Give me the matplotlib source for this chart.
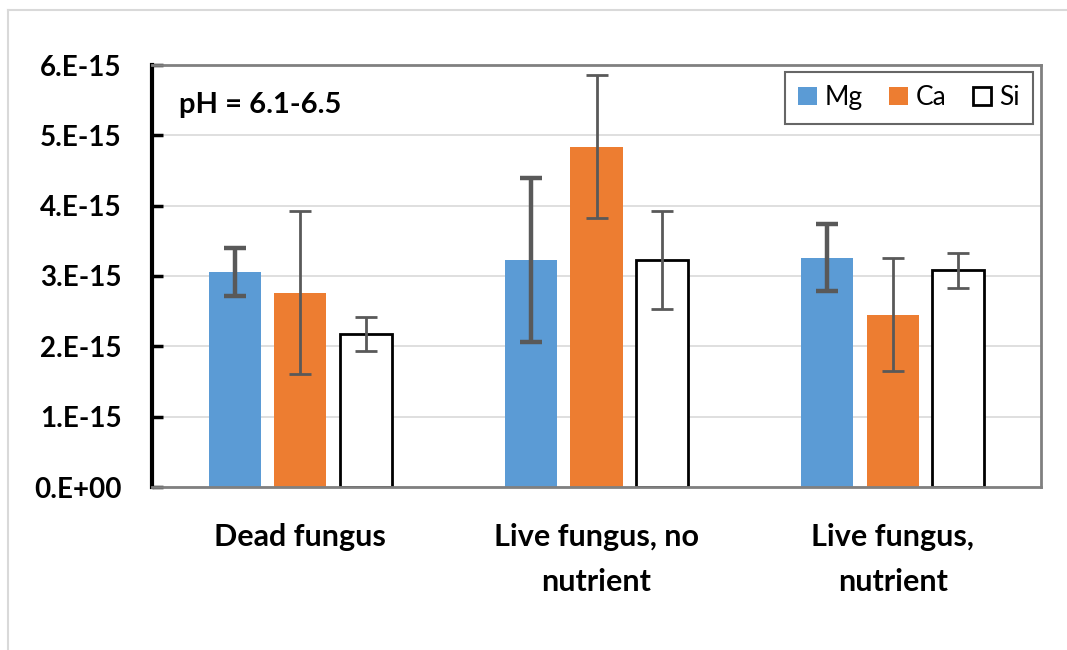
import matplotlib.pyplot as plt
import numpy as np
from matplotlib.lines import Line2D

plt.rcParams['font.family'] = ['Lato', 'DejaVu Sans']

categories = ['Dead fungus', 'Live fungus, no\nnutrient', 'Live fungus,\nnutrient']
series = ['Mg', 'Ca', 'Si']
mg = [3.06e-15, 3.23e-15, 3.26e-15]
ca = [2.76e-15, 4.84e-15, 2.45e-15]
si = [2.17e-15, 3.23e-15, 3.08e-15]
mg_err = [0.34e-15, 1.17e-15, 0.48e-15]
ca_err = [1.16e-15, 1.02e-15, 0.80e-15]
si_err = [0.24e-15, 0.70e-15, 0.25e-15]
yticks = [0, 1e-15, 2e-15, 3e-15, 4e-15, 5e-15, 6e-15]
ytick_labels = ['0.E+00', '1.E-15', '2.E-15', '3.E-15', '4.E-15', '5.E-15', '6.E-15']

fig = plt.figure(figsize=(10.67, 6.5), dpi=100)
ax = fig.add_axes([152 / 1067, 1 - 487 / 650, (1041 - 152) / 1067, (487 - 65) / 650])

# light frame around the chart area
fig.add_artist(Line2D([8 / 1067, 1.0], [1 - 10 / 650] * 2, color='#d9d9d9', lw=1.5))
fig.add_artist(Line2D([8 / 1067] * 2, [0.0, 1 - 10 / 650], color='#d9d9d9', lw=1.5))

x = np.arange(len(categories))
w = 0.176
step = 0.221
err_col = '#595959'

ax.bar(x - step, mg, w, color='#5b9bd5', label='Mg', zorder=2)
ax.bar(x, ca, w, color='#ed7d31', label='Ca', zorder=2)
ax.bar(x + step, si, w, color='white', edgecolor='black', linewidth=2, label='Si', zorder=2)

ax.errorbar(x - step, mg, yerr=mg_err, fmt='none', ecolor=err_col, elinewidth=3.2,
            capsize=8, capthick=3.2, zorder=3)
ax.errorbar(x, ca, yerr=ca_err, fmt='none', ecolor=err_col, elinewidth=2,
            capsize=8, capthick=2, zorder=3)
ax.errorbar(x + step, si, yerr=si_err, fmt='none', ecolor=err_col, elinewidth=2,
            capsize=8, capthick=2, zorder=3)

ax.set_xlim(-0.5, 2.5)
ax.set_ylim(0, 6e-15)
ax.set_yticks(yticks)
ax.set_yticklabels(ytick_labels, fontsize=20, fontweight='bold')
ax.set_xticks(x)
ax.set_xticklabels(categories, fontsize=22, fontweight='bold', linespacing=1.75)
ax.tick_params(axis='x', length=0, pad=26)
ax.tick_params(axis='y', direction='in', length=8, width=2.5, color='black', pad=22)

ax.grid(axis='y', color='#d9d9d9', lw=1.2, zorder=0)
ax.set_axisbelow(True)
for s in ['top', 'right', 'bottom']:
    ax.spines[s].set_color('#808080')
    ax.spines[s].set_linewidth(2)
ax.spines['left'].set_color('black')
ax.spines['left'].set_linewidth(3)

ax.text(0.03, 0.905, 'pH = 6.1-6.5', transform=ax.transAxes, fontsize=21,
        fontweight='bold', va='center', ha='left')

leg = ax.legend(loc='upper right', ncol=3, fontsize=19, frameon=True, fancybox=False,
                handlelength=0.7, handleheight=0.7, handletextpad=0.3, columnspacing=1.0,
                borderpad=0.5, borderaxespad=0, bbox_to_anchor=(0.991, 0.983))
leg.get_frame().set_edgecolor('#404040')
leg.get_frame().set_linewidth(1.5)

fig.savefig('out.png', dpi=100)
